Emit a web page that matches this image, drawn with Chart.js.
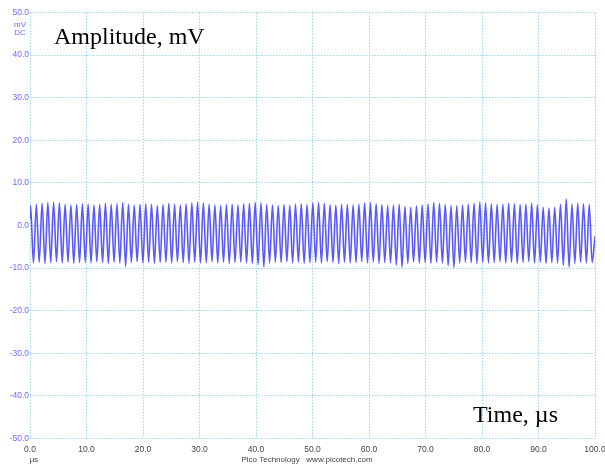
<!DOCTYPE html>
<html>
<head>
<meta charset="utf-8">
<script src="https://cdn.jsdelivr.net/npm/chart.js@4/dist/chart.umd.min.js"></script>
<style>
  html, body { margin: 0; padding: 0; background: #ffffff; }
  #wrap { width: 605px; height: 467px; position: relative; }
</style>
</head>
<body>
<div id="wrap"><canvas id="c" width="605" height="467"></canvas></div>
<script>
// ---- data ----
const xTickLabels = ["0.0","10.0","20.0","30.0","40.0","50.0","60.0","70.0","80.0","90.0","100.0"];
const yTickLabels = ["-50.0","-40.0","-30.0","-20.0","-10.0","0.0","10.0","20.0","30.0","40.0","50.0"];
const startTimeUs = 0.1;          // time of first peak, µs
const halfPeriodUs = 0.5097;      // spacing between successive extrema, µs
// peak (max) values of each cycle, mV
const peaksMv = [
  4.6, 4.9, 5.2, 5.4, 5.5, 5.3, 5.0, 4.8, 4.9, 5.1,
  5.0, 4.8, 4.9, 5.2, 5.0, 5.1, 5.4, 5.0, 4.8, 4.9,
  5.1, 5.0, 4.7, 4.9, 5.2, 5.0, 4.8, 5.1, 5.3, 5.5,
  5.3, 5.0, 4.8, 4.7, 4.9, 5.0, 4.8, 5.1, 5.2, 5.4,
  5.3, 4.9, 4.8, 4.7, 4.9, 4.8, 5.0, 5.1, 4.9, 5.3,
  5.4, 5.2, 4.9, 4.8, 5.0, 4.9, 4.8, 5.0, 5.3, 5.4,
  5.1, 4.9, 4.7, 4.8, 5.0, 4.5, 4.3, 4.6, 4.8, 5.1,
  5.4, 5.2, 4.9, 4.7, 4.6, 4.8, 5.0, 5.2, 5.5, 5.3,
  5.1, 4.9, 5.0, 5.2, 5.1, 4.9, 5.0, 5.2, 4.8, 4.3,
  4.1, 4.3, 5.0, 6.2, 5.0, 5.2, 5.1, 4.9
];
// trough (min) values of each cycle, mV
const troughsMv = [
  -8.8, -8.6, -8.9, -8.7, -8.5, -8.8, -8.6, -8.9, -8.7, -8.6,
  -8.8, -8.5, -8.7, -8.9, -8.6, -8.8, -9.6, -8.7, -8.5, -8.8,
  -8.6, -8.9, -8.7, -8.6, -8.8, -8.5, -8.7, -8.9, -8.6, -8.8,
  -8.7, -8.5, -8.8, -8.6, -8.9, -8.7, -8.6, -8.8, -8.9, -9.2,
  -9.7, -8.8, -8.6, -8.7, -8.5, -8.8, -8.6, -8.9, -8.7, -8.6,
  -8.8, -8.5, -8.7, -8.9, -8.6, -8.8, -8.7, -8.5, -8.8, -8.6,
  -8.9, -8.7, -8.8, -9.3, -9.8, -8.9, -8.6, -8.8, -8.7, -8.9,
  -8.6, -8.8, -9.4, -9.9, -8.8, -8.6, -8.7, -8.9, -8.6, -8.8,
  -8.7, -8.5, -8.8, -8.6, -8.9, -8.7, -8.5, -8.8, -8.6, -8.9,
  -8.7, -8.8, -9.3, -9.8, -8.9, -8.6, -8.8, -8.7
];
const startValueMv = 1.5;   // value at t = 0
const endValueMv = -2.5;    // value at t = 100 µs

// ---- build points ----
const points = [{x: 0, y: startValueMv}];
for (let i = 0; i < peaksMv.length; i++) {
  points.push({x: startTimeUs + (2 * i) * halfPeriodUs, y: peaksMv[i]});
  points.push({x: startTimeUs + (2 * i + 1) * halfPeriodUs, y: troughsMv[i]});
}
points.push({x: 100, y: endValueMv});

const gridColor = 'rgba(160,212,236,1)';
const fontFam = '"Liberation Sans", Arial, sans-serif';

const overlay = {
  id: 'overlay',
  afterDraw(chart) {
    const ctx = chart.ctx;
    ctx.save();
    ctx.fillStyle = '#6b6bff';
    ctx.font = '8px ' + fontFam;
    ctx.textAlign = 'center';
    ctx.textBaseline = 'middle';
    ctx.fillText('mV', 20, 25);
    ctx.fillText('DC', 20, 33);
    ctx.fillStyle = '#444';
    ctx.fillText('µs', 34, 460);
    ctx.fillText('Pico Technology   www.picotech.com', 307, 460);
    ctx.fillStyle = '#000';
    ctx.font = '24px "Liberation Serif", "Times New Roman", serif';
    ctx.textAlign = 'left';
    ctx.textBaseline = 'alphabetic';
    ctx.fillText('Amplitude, mV', 54, 44);
    ctx.fillText('Time, µs', 473, 422);
    ctx.restore();
  }
};

new Chart(document.getElementById('c'), {
  type: 'line',
  data: {
    datasets: [{
      data: points,
      borderColor: 'rgba(60,60,255,0.85)',
      borderWidth: 1.6,
      pointRadius: 0,
      cubicInterpolationMode: 'monotone',
      fill: false
    }]
  },
  options: {
    responsive: false,
    animation: false,
    layout: { padding: { left: 0, right: 10, top: 12.5, bottom: 0 } },
    plugins: { legend: { display: false }, tooltip: { enabled: false } },
    scales: {
      x: {
        type: 'linear', min: 0, max: 100,
        border: { display: false, dash: [1.5, 1.5] },
        grid: { color: gridColor, lineWidth: 1, drawTicks: false },
        ticks: {
          stepSize: 10, padding: 6, maxRotation: 0, autoSkip: false,
          color: '#444', font: { size: 8.5, family: fontFam },
          callback: (v) => xTickLabels[Math.round(v / 10)]
        },
        afterFit(s) { s.height = 28.5; s.paddingRight = 0; s.paddingLeft = 0; }
      },
      y: {
        type: 'linear', min: -50, max: 50,
        border: { display: false, dash: [1.5, 1.5] },
        grid: { color: gridColor, lineWidth: 1, drawTicks: false },
        ticks: {
          stepSize: 10, padding: 1, autoSkip: false,
          color: '#6b6bff', font: { size: 8.5, family: fontFam },
          callback: (v) => yTickLabels[Math.round((v + 50) / 10)]
        },
        afterFit(s) { s.width = 30; s.paddingTop = 0; s.paddingBottom = 0; }
      }
    }
  },
  plugins: [overlay]
});
</script>
</body>
</html>
